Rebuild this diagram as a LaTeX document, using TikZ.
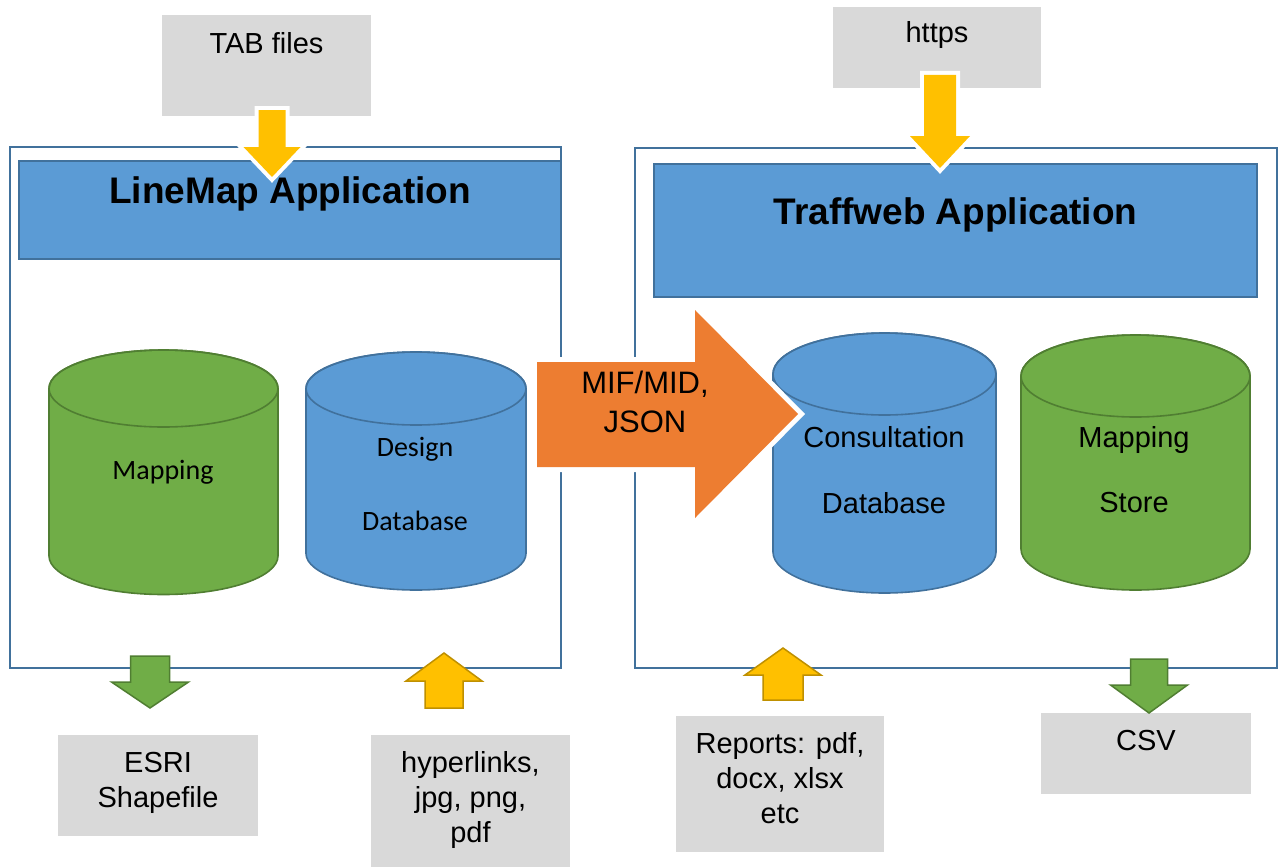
\documentclass[tikz,border=0pt]{standalone}
\usepackage{fontspec}
\setmainfont{Liberation Sans}
\newfontfamily\calib{Carlito}
\definecolor{hdrblue}{HTML}{5B9BD5}
\definecolor{edgeblue}{HTML}{41719C}
\definecolor{dbgreen}{HTML}{70AD47}
\definecolor{edgegreen}{HTML}{507E32}
\definecolor{arrorange}{HTML}{ED7D31}
\definecolor{arryellow}{HTML}{FFC000}
\definecolor{edgeyellow}{HTML}{BF9000}
\definecolor{boxgray}{HTML}{D9D9D9}
\newcommand{\mycyl}[7]{%
  \filldraw[fill=#6, draw=#7, line width=1.6] (#1-#2,#3) -- (#1-#2,#4)
    arc[start angle=180,end angle=360,x radius=#2pt,y radius=#5pt]
    -- (#1+#2,#3)
    arc[start angle=0,end angle=180,x radius=#2pt,y radius=#5pt] -- cycle;
  \draw[draw=#7, line width=1.6] (#1,#3) ellipse[x radius=#2pt, y radius=#5pt];}
\tikzset{
  outerbox/.style={draw=edgeblue, line width=2, fill=none},
  header/.style={draw=edgeblue, line width=2, fill=hdrblue},
  graybox/.style={fill=boxgray, draw=none},
  txt/.style={font=\fontsize{29}{35}\selectfont, align=center, inner sep=0},
  title/.style={font=\fontsize{37}{44}\selectfont\bfseries, inner sep=0},
  cyltxt/.style={font=\calib\fontsize{28}{34}\selectfont, inner sep=0},
  cyltxtb/.style={font=\fontsize{29}{35}\selectfont, inner sep=0},
  halo/.style={draw=white, line width=8, line join=miter},
  yfill/.style={fill=arryellow, draw=none},
  yout/.style={fill=arryellow, draw=edgeyellow, line width=1.5},
  gout/.style={fill=dbgreen, draw=edgegreen, line width=1.5},
}
\begin{document}
\begin{tikzpicture}[x=1pt,y=-1pt]
\useasboundingbox[fill=white] (0,0) rectangle (1282,867);
% outer boxes
\draw[outerbox] (10,147) rectangle (561,668);
\draw[outerbox] (635,148) rectangle (1277,668);
% headers
\draw[header] (19,161) rectangle (561,259);
\draw[header] (654,164) rectangle (1257,297);
\node[title] (lmtitle) at (290,194) {LineMap Application};
\node[title] (twtitle) at (955.5,215) {Traffweb Application};
% gray boxes
\fill[graybox] (162,15) rectangle (371,116);
\node[txt] (tab) at (266.5,43) {TAB files};
\fill[graybox] (833,7) rectangle (1041,88);
\node[txt] (https) at (937,35) {https};
\fill[graybox] (58,735) rectangle (258,836);
\node[txt] (esri) at (158,783) {ESRI\\Shapefile};
\fill[graybox] (371,735) rectangle (570,867);
\node[txt] (hyper) at (470.5,800) {hyperlinks,\\jpg, png,\\pdf};
\fill[graybox] (676,716) rectangle (884,852);
\node[txt] (reports) at (780,778) {Reports: pdf,\\docx, xlsx\\etc};
\fill[graybox] (1041,713) rectangle (1251,794);
\node[txt] (csv) at (1146,741) {CSV};
% cylinders
\mycyl{163.5}{114.5}{388.5}{556}{38.5}{dbgreen}{edgegreen}
\node[cyltxt] (map1) at (163,472) {Mapping};
\mycyl{416}{110}{388.5}{553.5}{36.5}{hdrblue}{edgeblue}
\node[cyltxt] (des1) at (415,449) {Design};
\node[cyltxt] (des2) at (415,521) {Database};
\mycyl{884.5}{111.5}{374}{552}{41}{hdrblue}{edgeblue}
\node[cyltxtb] (con1) at (884,437) {Consultation};
\node[cyltxtb] (con2) at (884,503) {Database};
\mycyl{1135.5}{114.5}{376}{549}{41}{dbgreen}{edgegreen}
\node[cyltxtb] (ms1) at (1134,440) {Mapping};
\node[cyltxtb] (ms2) at (1134,503) {Store};
% orange arrow
\draw[draw=white, line width=10, line join=miter] (537,362) -- (695,362) -- (695,310) -- (798,414) -- (695,518) -- (695,467) -- (537,467) -- cycle;
\fill[arrorange] (537,362) -- (695,362) -- (695,310) -- (798,414) -- (695,518) -- (695,467) -- (537,467) -- cycle;
\node[txt, font=\fontsize{31}{39}\selectfont] (mif) at (645,402) {MIF/MID,\\JSON};
% top yellow arrows
\draw[halo] (258.5,110) -- (285.5,110) -- (285.5,147) -- (300.5,147) -- (272,177) -- (243.5,147) -- (258.5,147) -- cycle;
\fill[yfill] (258.5,110) -- (285.5,110) -- (285.5,147) -- (300.5,147) -- (272,177) -- (243.5,147) -- (258.5,147) -- cycle;
\draw[halo] (924,75) -- (956,75) -- (956,136) -- (970,136) -- (940,168) -- (910,136) -- (924,136) -- cycle;
\fill[yfill] (924,75) -- (956,75) -- (956,136) -- (970,136) -- (940,168) -- (910,136) -- (924,136) -- cycle;
% bottom arrows
\draw[gout] (130.5,656) -- (169.5,656) -- (169.5,682) -- (188.5,682) -- (150,708) -- (111.5,682) -- (130.5,682) -- cycle;
\draw[yout] (425,708) -- (463,708) -- (463,681) -- (482,681) -- (444,653) -- (406,681) -- (425,681) -- cycle;
\draw[yout] (763,700) -- (803,700) -- (803,675) -- (821,675) -- (783,648) -- (745,675) -- (763,675) -- cycle;
\draw[gout] (1130.5,659) -- (1167.5,659) -- (1167.5,685) -- (1187.5,685) -- (1149,713) -- (1110.5,685) -- (1130.5,685) -- cycle;
\end{tikzpicture}
\end{document}
